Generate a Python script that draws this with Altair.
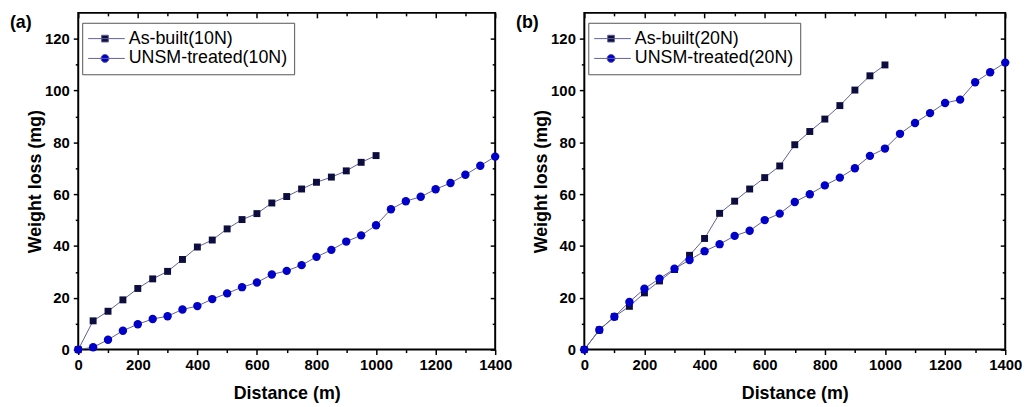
import altair as alt
import pandas as pd

# Sliding distance (m)
distance_built = [0, 50, 100, 150, 200, 250, 300, 350, 400, 450, 500,
                  550, 600, 650, 700, 750, 800, 850, 900, 950, 1000]
distance_unsm = [0, 50, 100, 150, 200, 250, 300, 350, 400, 450, 500,
                 550, 600, 650, 700, 750, 800, 850, 900, 950, 1000,
                 1050, 1100, 1150, 1200, 1250, 1300, 1350, 1400]

# Cumulative weight loss (mg), 10 N load
built_10n = [0, 11.1, 14.8, 19.2, 23.6, 27.3, 30.2, 34.8, 39.6, 42.3, 46.6,
             50.2, 52.5, 56.6, 59.1, 62.0, 64.6, 66.6, 69.0, 72.3, 74.9]
unsm_10n = [0, 0.9, 3.8, 7.3, 9.8, 11.8, 12.9, 15.5, 16.8, 19.5, 21.7,
            24.1, 25.9, 29.0, 30.4, 32.6, 35.8, 38.5, 41.7, 44.1, 48.0,
            54.2, 57.3, 59.0, 61.9, 64.3, 67.5, 71.0, 74.5]

# Cumulative weight loss (mg), 20 N load
built_20n = [0, 7.6, 12.7, 16.7, 21.9, 26.5, 30.9, 36.4, 42.9, 52.6, 57.3,
             62.0, 66.4, 70.9, 79.1, 84.2, 89.0, 94.2, 100.2, 105.7, 109.9]
unsm_20n = [0, 7.6, 12.7, 18.4, 23.5, 27.4, 31.2, 34.6, 38.0, 40.7, 43.9,
            45.9, 50.0, 52.5, 57.0, 60.0, 63.4, 66.4, 70.0, 74.8, 77.6,
            83.3, 87.5, 91.3, 95.2, 96.5, 103.2, 107.1, 110.8]

labels_10n = ["As-built(10N)", "UNSM-treated(10N)"]
labels_20n = ["As-built(20N)", "UNSM-treated(20N)"]

x_major = [0, 200, 400, 600, 800, 1000, 1200, 1400]
x_minor = [100, 300, 500, 700, 900, 1100, 1300]
y_major = [0, 20, 40, 60, 80, 100, 120]
y_minor = [10, 30, 50, 70, 90, 110]

FONT = "Liberation Sans"
NAVY = "#0d0d40"
BLUE = "#0000c8"
LINE = "#5f5f99"

# legend glyphs: a short line with the marker in its middle
LEGEND_SQUARE = "M-5,0H5M-0.85,-0.85H0.85V0.85H-0.85Z"
LEGEND_CIRCLE = "M-5,0H5M1,0A1,1,0,1,1,-1,0A1,1,0,1,1,1,0Z"


def panel(built, unsm, labels, tag, width, height):
    built_df = pd.DataFrame({"distance": distance_built, "loss": built, "series": labels[0]})
    unsm_df = pd.DataFrame({"distance": distance_unsm, "loss": unsm, "series": labels[1]})
    df = pd.concat([built_df, unsm_df], ignore_index=True)

    xs = alt.Scale(domain=[0, 1400], nice=False, zero=False)
    ys = alt.Scale(domain=[0, 130], nice=False, zero=False)

    def xy(chart, xaxis, yaxis):
        return chart.encode(
            x=alt.X("distance:Q", scale=xs, axis=xaxis),
            y=alt.Y("loss:Q", scale=ys, axis=yaxis),
        )

    lines = xy(
        alt.Chart(df).mark_line(color=LINE, strokeWidth=1),
        alt.Axis(orient="bottom", values=x_major, title="Distance (m)", format="d",
                 tickSize=5, labelPadding=3, titlePadding=12, labelFlush=False),
        alt.Axis(orient="left", values=y_major, title="Weight loss (mg)", format="d",
                 tickSize=5, labelPadding=4, titlePadding=0, labelFlush=False),
    ).encode(detail="series:N")

    squares = xy(
        alt.Chart(built_df).mark_point(shape="square", filled=True, size=49,
                                       color=NAVY, opacity=1),
        None, None)
    circles = xy(
        alt.Chart(unsm_df).mark_point(shape="circle", filled=True, size=72,
                                      color=BLUE, opacity=1),
        None, None)

    minor_ticks = xy(
        alt.Chart(df).mark_point(opacity=0),
        alt.Axis(orient="bottom", values=x_minor, tickSize=3, labels=False, title=None),
        alt.Axis(orient="left", values=y_minor, tickSize=3, labels=False, title=None),
    )
    mirror_major = xy(
        alt.Chart(df).mark_point(opacity=0),
        alt.Axis(orient="top", values=x_major, tickSize=5, offset=-5, labels=False, title=None),
        alt.Axis(orient="right", values=y_major, tickSize=5, offset=-5, labels=False, title=None),
    )
    mirror_minor = xy(
        alt.Chart(df).mark_point(opacity=0),
        alt.Axis(orient="top", values=x_minor, tickSize=3, offset=-3, labels=False, title=None),
        alt.Axis(orient="right", values=y_minor, tickSize=3, offset=-3, labels=False, title=None),
    )

    legend_kw = dict(
        title=None, orient="none", legendX=4, legendY=10,
        padding=6, strokeColor="#555555", fillColor="white",
        labelFont=FONT, labelFontSize=18, labelColor="black", labelLimit=0,
        symbolSize=64, symbolStrokeWidth=1, symbolOpacity=1,
        symbolOffset=8, labelOffset=15, clipHeight=20, rowPadding=0,
    )
    legend = alt.Chart(df).transform_filter("datum.distance < 0").mark_point(
        filled=True, opacity=1
    ).encode(
        fill=alt.Fill("series:N", scale=alt.Scale(domain=labels, range=[NAVY, BLUE]),
                      legend=alt.Legend(**legend_kw)),
        stroke=alt.Stroke("series:N", scale=alt.Scale(domain=labels, range=[LINE, LINE]),
                          legend=alt.Legend(**legend_kw)),
        shape=alt.Shape("series:N",
                        scale=alt.Scale(domain=labels, range=[LEGEND_SQUARE, LEGEND_CIRCLE]),
                        legend=alt.Legend(**legend_kw)),
    )

    tag_text = alt.Chart(pd.DataFrame({"tag": [tag]})).mark_text(
        align="left", baseline="middle", font=FONT, fontSize=18,
        fontWeight="bold", color="black"
    ).encode(text="tag:N", x=alt.value(-69), y=alt.value(10))

    return alt.layer(
        lines, squares, circles, minor_ticks, mirror_major, mirror_minor,
        legend, tag_text
    ).resolve_axis(x="independent", y="independent").properties(
        width=width, height=height
    )


left = panel(built_10n, unsm_10n, labels_10n, "(a)", 421, 340)
right = panel(built_20n, unsm_20n, labels_20n, "(b)", 425, 340)

chart = alt.hconcat(left, right, spacing=90, bounds="flush").resolve_scale(
    fill="independent", stroke="independent", shape="independent"
).resolve_legend(
    fill="independent", stroke="independent", shape="independent"
).properties(
    padding={"left": 9, "top": 9, "right": 5, "bottom": 5}
).configure_view(
    stroke="black", strokeWidth=2
).configure_axis(
    grid=False, domain=False,
    labelFont=FONT, labelFontWeight="bold", labelFontSize=15, labelColor="black",
    titleFont=FONT, titleFontWeight="bold", titleFontSize=18, titleColor="black",
    tickColor="black", tickWidth=1.5,
)

chart.save("out.html", embed_options={"renderer": "svg", "actions": False})
